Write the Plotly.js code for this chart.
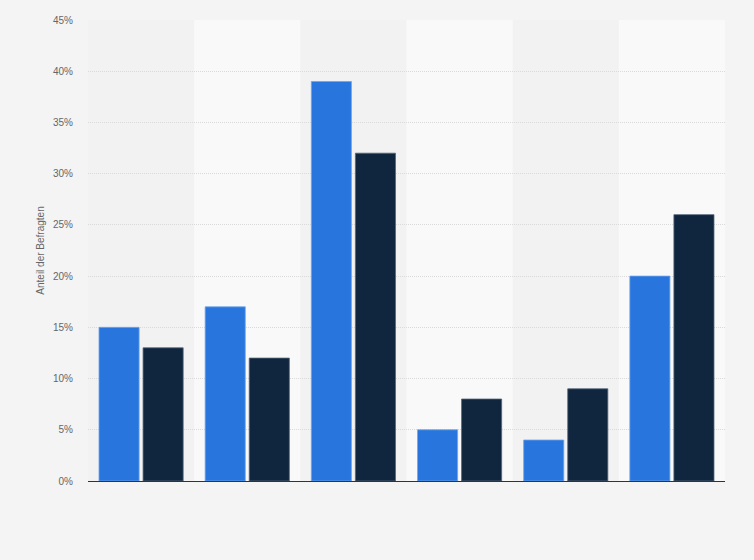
<!DOCTYPE html>
<html>
<head>
<meta charset="utf-8">
<script src="https://cdn.plot.ly/plotly-3.0.1.min.js"></script>
<style>
  html, body { margin: 0; padding: 0; background: #f4f4f4; }
  #chart { width: 754px; height: 560px; }
</style>
</head>
<body>
<div id="chart"></div>
<script>
// six answer groups, labels not shown in the picture
const categories = ["1", "2", "3", "4", "5", "6"];
const seriesA = [15, 17, 39, 5, 4, 20];
const seriesB = [13, 12, 32, 8, 9, 26];
const yTicks = [0, 5, 10, 15, 20, 25, 30, 35, 40, 45];

const colA = "#2876dd";
const colB = "#0f263e";

// alternating light column bands behind the bars
let bands = [];
for (let i = 0; i < categories.length; i++) {
    if (i % 2 == 1) {
        bands.push({
            type: "rect", xref: "x", yref: "paper", layer: "below",
            x0: i - 0.5, x1: i + 0.5, y0: 0, y1: 1,
            fillcolor: "#f9f9f9", line: {width: 0}
        });
    }
}

const data = [
    {
        x: categories.map((_, i) => i), y: seriesA, type: "bar",
        marker: {color: colA, line: {color: "#6fa3ea", width: 0.8}},
        hoverinfo: "y"
    },
    {
        x: categories.map((_, i) => i), y: seriesB, type: "bar",
        marker: {color: colB, line: {color: "#55657a", width: 0.8}},
        hoverinfo: "y"
    }
];

const layout = {
    width: 754, height: 560,
    margin: {l: 88, r: 29, t: 20, b: 79},
    paper_bgcolor: "#f4f4f4",
    plot_bgcolor: "#f2f2f2",
    barmode: "group",
    bargap: 0.17,
    bargroupgap: 0.09,
    showlegend: false,
    shapes: bands,
    font: {family: "Liberation Sans, Arial, sans-serif", color: "#666"},
    xaxis: {
        range: [-0.5, categories.length - 0.5],
        showticklabels: false, showgrid: false, zeroline: false,
        showline: true, linecolor: "#333", linewidth: 1, ticks: ""
    },
    yaxis: {
        range: [0, 45],
        tickvals: yTicks,
        ticktext: yTicks.map(v => v + "%"),
        tickfont: {size: 10, color: "#666"},
        showgrid: true, gridcolor: "#dadada", griddash: "1px,1px", gridwidth: 1,
        zeroline: false, showline: false, ticks: "",
        ticklabelstandoff: 14,
        title: {text: "Anteil der Befragten", font: {size: 10, color: "#666"}, standoff: 6}
    }
};

Plotly.newPlot("chart", data, layout, {displayModeBar: false, staticPlot: true});
</script>
</body>
</html>
